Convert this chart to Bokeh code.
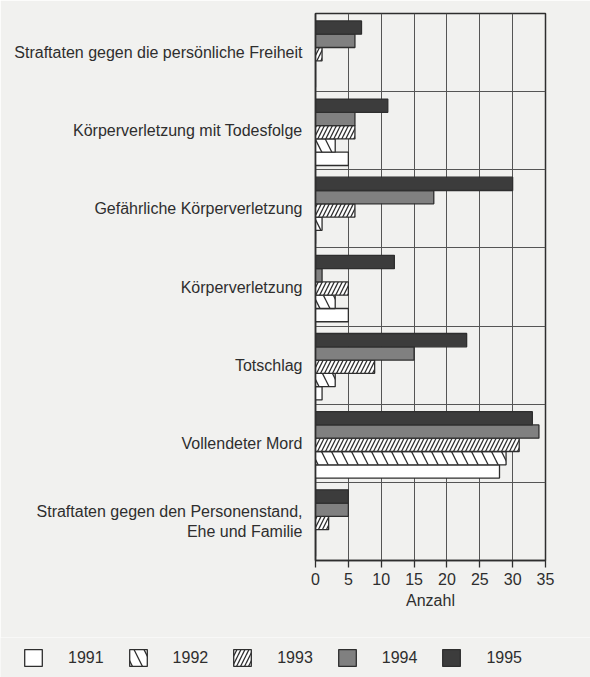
from bokeh.plotting import figure
from bokeh.models import FixedTicker, Legend, LegendItem
from bokeh.embed import file_html
from bokeh.resources import INLINE

categories = [
    "Straftaten gegen die persönliche Freiheit",
    "Körperverletzung mit Todesfolge",
    "Gefährliche Körperverletzung",
    "Körperverletzung",
    "Totschlag",
    "Vollendeter Mord",
    "Straftaten gegen den Personenstand,\nEhe und Familie",
]
years = ["1991", "1992", "1993", "1994", "1995"]
v1991 = [0, 5, 0, 5, 1, 28, 0]
v1992 = [0, 3, 1, 3, 3, 29, 0]
v1993 = [1, 6, 6, 5, 9, 31, 2]
v1994 = [6, 6, 18, 1, 15, 34, 5]
v1995 = [7, 11, 30, 12, 23, 33, 5]
x_ticks = [0, 5, 10, 15, 20, 25, 30, 35]

series = [v1991, v1992, v1993, v1994, v1995]
fills = ["#ffffff", "#ffffff", "#ffffff", "#808080", "#3c3c3c"]
hatches = [None, "\\", "/", None, None]
hscales = [12, 20, 8, 12, 12]
offsets = [-0.34, -0.17, 0.0, 0.17, 0.34]

n = len(categories)
ypos = [n - 1 - i for i in range(n)]  # first category on top

BG = "#f1f1ef"
INK = "#2e2e2e"
FONT = "Liberation Sans"


def bar_style(k):
    kw = dict(fill_color=fills[k], line_color=INK, line_width=1.3)
    if hatches[k]:
        kw.update(hatch_pattern=hatches[k], hatch_color=INK,
                  hatch_scale=hscales[k], hatch_weight=1.3)
    return kw


p = figure(frame_width=230, frame_height=547,
           x_range=(0, 35), y_range=(-0.5, n - 0.5),
           output_backend="svg", toolbar_location=None,
           min_border_left=315, min_border_right=45, min_border_top=13,
           min_border_bottom=77)
p.background_fill_color = BG
p.border_fill_color = BG
p.outline_line_color = INK
p.outline_line_width = 1.5

for k, vals in enumerate(series):
    ys = [y + offsets[k] - 0.02 for y in ypos]
    p.hbar(y=ys, right=vals, left=0, height=0.17, **bar_style(k))

p.xaxis.ticker = FixedTicker(ticks=x_ticks)
p.xgrid.ticker = FixedTicker(ticks=x_ticks)
p.xgrid.grid_line_color = "#555555"
p.xgrid.grid_line_width = 1
p.xaxis.axis_label = "Anzahl"
p.xaxis.axis_label_text_font = FONT
p.xaxis.axis_label_text_font_style = "normal"
p.xaxis.axis_label_text_font_size = "16px"
p.xaxis.axis_label_text_color = INK
p.xaxis.axis_label_standoff = 4
p.xaxis.major_label_text_font = FONT
p.xaxis.major_label_text_font_size = "16px"
p.xaxis.major_label_text_color = INK
p.xaxis.major_label_standoff = 5
p.xaxis.major_tick_out = 7
p.xaxis.major_tick_in = 0
p.xaxis.minor_tick_line_color = None
p.xaxis.axis_line_color = INK
p.xaxis.axis_line_width = 1.5
p.xaxis.major_tick_line_color = INK
p.xaxis.major_tick_line_width = 1.3

p.yaxis.ticker = FixedTicker(ticks=ypos)
p.yaxis.major_label_overrides = {y: c for y, c in zip(ypos, categories)}
p.yaxis.major_label_text_font = FONT
p.yaxis.major_label_text_font_size = "16px"
p.yaxis.major_label_text_color = INK
p.yaxis.major_tick_line_color = None
p.yaxis.minor_tick_line_color = None
p.yaxis.major_label_standoff = 7
p.yaxis.axis_line_color = INK
p.yaxis.axis_line_width = 1.5
p.ygrid.ticker = FixedTicker(ticks=[y + 0.5 for y in range(n - 1)])
p.ygrid.grid_line_color = "#555555"
p.ygrid.grid_line_width = 1

# legend strip below the chart: hidden copies of the series supply the swatches
lg = figure(width=590, height=40, x_range=(0, 35), y_range=(-0.5, n - 0.5),
            output_backend="svg", toolbar_location=None,
            x_axis_location=None, y_axis_location=None, min_border=0)
lg.background_fill_color = BG
lg.border_fill_color = BG
lg.outline_line_color = None
lg.grid.visible = False
items = []
for k, (vals, yr) in enumerate(zip(series, years)):
    r = lg.hbar(y=ypos, right=vals, left=0, height=0.17, visible=False, **bar_style(k))
    items.append(LegendItem(label=yr, renderers=[r]))

legend = Legend(items=items, orientation="horizontal", location=(22, 9),
                background_fill_alpha=0, border_line_color=None,
                inactive_fill_alpha=0,
                label_text_font=FONT, label_text_font_size="16px",
                label_text_color=INK, glyph_width=22, glyph_height=21,
                label_standoff=24, spacing=23, padding=0, margin=0)
lg.add_layout(legend, "center")

open("out.html", "w").write(file_html([p, lg], INLINE))
